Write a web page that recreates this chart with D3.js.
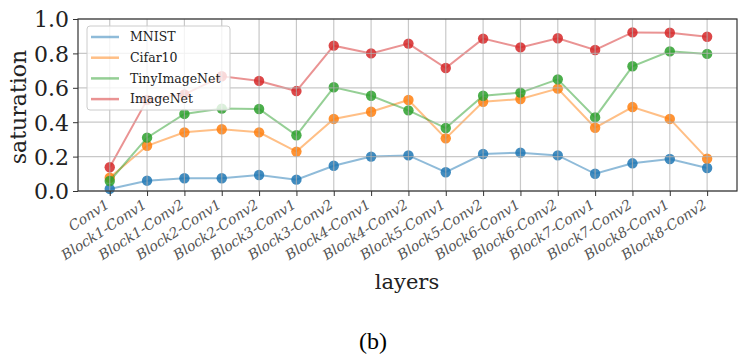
<!DOCTYPE html>
<html>
<head>
<meta charset="utf-8">
<script src="https://cdn.jsdelivr.net/npm/d3@7"></script>
<style>
  body { margin: 0; background: #fff; }
  text { font-family: "DejaVu Serif", serif; }
</style>
</head>
<body>
<div id="chart"></div>
<script>
const width = 742;
const height = 357;
const margin = { top: 19, right: 5, bottom: 166, left: 78 };

const layers = ["Conv1", "Block1-Conv1", "Block1-Conv2", "Block2-Conv1", "Block2-Conv2",
    "Block3-Conv1", "Block3-Conv2", "Block4-Conv1", "Block4-Conv2", "Block5-Conv1",
    "Block5-Conv2", "Block6-Conv1", "Block6-Conv2", "Block7-Conv1", "Block7-Conv2",
    "Block8-Conv1", "Block8-Conv2"];

const mnist = [0.012, 0.06, 0.074, 0.074, 0.093, 0.066, 0.147, 0.2, 0.207, 0.109,
    0.215, 0.223, 0.207, 0.10, 0.161, 0.186, 0.134];
const cifar10 = [0.077, 0.263, 0.341, 0.359, 0.341, 0.229, 0.419, 0.461, 0.529, 0.306,
    0.519, 0.535, 0.595, 0.368, 0.488, 0.419, 0.188];
const tinyImageNet = [0.058, 0.31, 0.448, 0.479, 0.477, 0.324, 0.603, 0.554, 0.469, 0.366,
    0.554, 0.572, 0.649, 0.428, 0.725, 0.812, 0.797];
const imageNet = [0.138, 0.53, 0.562, 0.667, 0.64, 0.581, 0.845, 0.80, 0.857, 0.715,
    0.886, 0.835, 0.888, 0.82, 0.922, 0.92, 0.897];

const yTicks = [0, 0.2, 0.4, 0.6, 0.8, 1.0];

const series = [
    { name: "MNIST", values: mnist, color: "#1f77b4" },
    { name: "Cifar10", values: cifar10, color: "#ff7f0e" },
    { name: "TinyImageNet", values: tinyImageNet, color: "#2ca02c" },
    { name: "ImageNet", values: imageNet, color: "#d62728" },
];

const svg = d3.select("#chart").append("svg")
    .attr("width", width)
    .attr("height", height);

const plotW = 737 - margin.left;
const plotH = 191 - margin.top;

const x = d3.scaleLinear()
    .domain([-0.85, layers.length - 1 + 0.8])
    .range([margin.left, margin.left + plotW]);
const y = d3.scaleLinear()
    .domain([0, 1])
    .range([margin.top + plotH, margin.top]);

// lines and markers
const line = d3.line()
    .x((d, i) => x(i))
    .y((d) => y(d));

const g = svg.append("g");
series.forEach((s) => {
    g.append("path")
        .datum(s.values)
        .attr("fill", "none")
        .attr("stroke", s.color)
        .attr("stroke-opacity", 0.5)
        .attr("stroke-width", 2)
        .attr("d", line);
    g.selectAll(null)
        .data(s.values)
        .join("circle")
        .attr("cx", (d, i) => x(i))
        .attr("cy", (d) => y(d))
        .attr("r", 5.2)
        .attr("fill", s.color)
        .attr("fill-opacity", 0.85);
});

// grid on top, as in the original
const grid = svg.append("g").attr("stroke", "#b0b0b0").attr("stroke-opacity", 0.7).attr("stroke-width", 1.2);
grid.selectAll(".gx")
    .data(layers.map((d, i) => i))
    .join("line")
    .attr("x1", (d) => x(d)).attr("x2", (d) => x(d))
    .attr("y1", margin.top).attr("y2", margin.top + plotH);
grid.selectAll(".gy")
    .data(yTicks)
    .join("line")
    .attr("x1", margin.left).attr("x2", margin.left + plotW)
    .attr("y1", (d) => y(d)).attr("y2", (d) => y(d));

// frame
svg.append("rect")
    .attr("x", margin.left)
    .attr("y", margin.top)
    .attr("width", plotW)
    .attr("height", plotH)
    .attr("fill", "none")
    .attr("stroke", "#333")
    .attr("stroke-width", 1.2);

// y axis
const yAxis = svg.append("g")
    .attr("transform", `translate(${margin.left},0)`)
    .call(d3.axisLeft(y).tickValues(yTicks).tickFormat(d3.format(".1f")).tickSize(5).tickPadding(4));
yAxis.select(".domain").remove();
yAxis.selectAll("line").attr("stroke", "#333");
yAxis.selectAll("text")
    .attr("font-size", 22)
    .attr("font-family", "DejaVu Serif")
    .attr("fill", "#222")
    .attr("dy", "0.36em");

// x axis
const xAxis = svg.append("g")
    .attr("transform", `translate(0,${margin.top + plotH})`)
    .call(d3.axisBottom(x).tickValues(layers.map((d, i) => i)).tickFormat((i) => layers[i]).tickSize(5));
xAxis.select(".domain").remove();
xAxis.selectAll("line").attr("stroke", "#333");
xAxis.selectAll("text")
    .attr("font-size", 14)
    .attr("font-style", "italic")
    .attr("fill", "#555")
    .attr("text-anchor", "end")
    .attr("dy", null)
    .attr("y", 0)
    .attr("transform", "translate(0,16) rotate(-33)");

// axis titles
svg.append("text")
    .attr("transform", `translate(26,${margin.top + plotH / 2 + 2}) rotate(-90)`)
    .attr("text-anchor", "middle")
    .attr("font-size", 22)
    .attr("fill", "#222")
    .text("saturation");

svg.append("text")
    .attr("x", 407)
    .attr("y", 289)
    .attr("text-anchor", "middle")
    .attr("font-size", 21)
    .attr("fill", "#222")
    .text("layers");

svg.append("text")
    .attr("x", 373)
    .attr("y", 349)
    .attr("text-anchor", "middle")
    .attr("font-size", 24)
    .attr("fill", "#000")
    .style("font-family", "'Liberation Serif', 'Times New Roman', serif")
    .text("(b)");

// legend
const legend = svg.append("g").attr("transform", "translate(87,26)");
legend.append("rect")
    .attr("width", 143)
    .attr("height", 84)
    .attr("rx", 3)
    .attr("fill", "#fff")
    .attr("fill-opacity", 0.8)
    .attr("stroke", "#ccc");
series.forEach((s, i) => {
    const row = legend.append("g").attr("transform", `translate(0,${11 + i * 20.7})`);
    row.append("line")
        .attr("x1", 4).attr("x2", 32)
        .attr("stroke", s.color)
        .attr("stroke-opacity", 0.5)
        .attr("stroke-width", 2.5);
    row.append("text")
        .attr("x", 43)
        .attr("dy", "0.35em")
        .attr("font-size", 12.5)
        .attr("fill", "#222")
        .text(s.name);
});
</script>
</body>
</html>
